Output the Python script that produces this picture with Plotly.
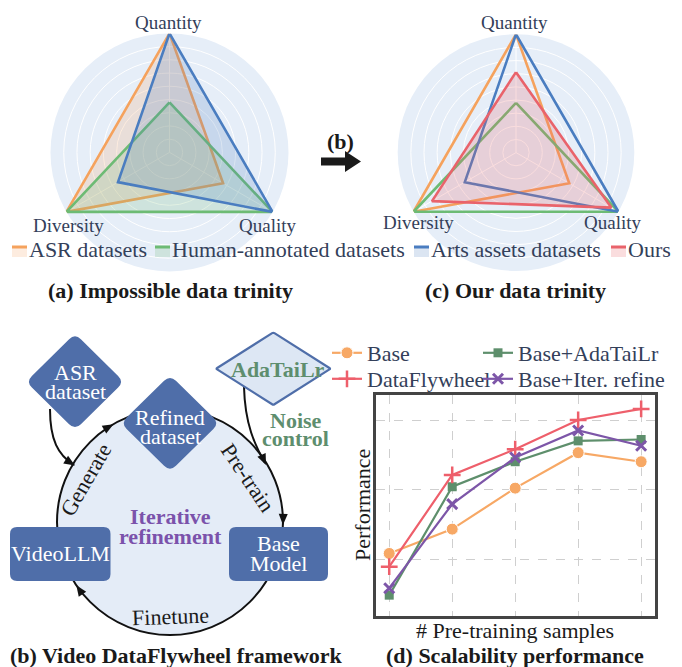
import math
import plotly.graph_objects as go

W, H = 682, 667
FONT = "Liberation Serif"

# ---------------- data ----------------
radar_axes = ["Quantity", "Quality", "Diversity"]
asr_vals = [1.0, 0.52, 1.0]
human_vals = [0.42, 1.0, 1.0]
arts_vals = [1.0, 1.0, 0.5]
ours_vals = [0.68, 0.93, 0.82]
radar_names = ["ASR datasets", "Human-annotated datasets", "Arts assets datasets", "Ours"]

sample_steps = [1, 2, 3, 4, 5]
perf_base = [1.08, 1.43, 2.02, 2.53, 2.40]
perf_adatailr = [0.48, 2.04, 2.40, 2.70, 2.72]
perf_flywheel = [0.89, 2.21, 2.58, 3.00, 3.16]
perf_iter = [0.58, 1.79, 2.46, 2.85, 2.63]
line_names = ["Base", "Base+AdaTaiLr", "DataFlywheel", "Base+Iter. refine"]

# ---------------- styles ----------------
C_ASR, C_HUM, C_ART, C_OUR = "#F5A25D", "#6DBB74", "#4A7DC0", "#E9636B"
radar_colors = [C_ASR, C_HUM, C_ART, C_OUR]
FILLS = {C_ASR: "rgba(245,162,93,0.2)", C_HUM: "rgba(109,187,116,0.2)",
         C_ART: "rgba(74,125,192,0.2)", C_OUR: "rgba(233,99,107,0.22)"}
TXT = "#33405A"
BOX = "#4F6EA9"
LIGHT = "#E4ECF7"
GREEN_T = "#5E8E6E"
PURPLE_T = "#7B52AB"

fig = go.Figure()


def closed(v):
    return list(v) + [v[0]]


# (a) radar
for vals, col in zip([asr_vals, human_vals, arts_vals], [C_ASR, C_HUM, C_ART]):
    fig.add_trace(go.Scatterpolar(r=closed(vals), theta=closed(radar_axes), subplot="polar",
                                  mode="lines", line=dict(color=col, width=2.6),
                                  fill="toself", fillcolor=FILLS[col], showlegend=False,
                                  hoverinfo="skip"))
# (c) radar
for vals, col in zip([asr_vals, human_vals, arts_vals, ours_vals], radar_colors):
    fig.add_trace(go.Scatterpolar(r=closed(vals), theta=closed(radar_axes), subplot="polar2",
                                  mode="lines", line=dict(color=col, width=2.6),
                                  fill="toself" if col == C_OUR else "none",
                                  fillcolor=FILLS[col], showlegend=False, hoverinfo="skip"))

# (d) lines
line_styles = [
    dict(color="#F7A865", symbol="circle", size=12, lw=1, lc="white", leg="legend"),
    dict(color="#5E8F6C", symbol="square", size=9, lw=0, lc="#5E8F6C", leg="legend2"),
    dict(color="#EE5F6B", symbol="cross-thin", size=12, lw=2.5, lc="#EE5F6B", leg="legend3"),
    dict(color="#7D56A8", symbol="x-thin", size=10, lw=3, lc="#7D56A8", leg="legend4"),
]
for name, ys, st in zip(line_names, [perf_base, perf_adatailr, perf_flywheel, perf_iter], line_styles):
    fig.add_trace(go.Scatter(x=sample_steps, y=ys, name=name, mode="lines+markers",
                             line=dict(color=st["color"], width=2.2),
                             marker=dict(symbol=st["symbol"], size=st["size"], color=st["color"],
                                         line=dict(color=st["lc"], width=st["lw"])),
                             xaxis="x", yaxis="y", legend=st["leg"]))

# pixel overlay axis
fig.add_trace(go.Scatter(x=[], y=[], xaxis="x2", yaxis="y2", showlegend=False, hoverinfo="skip"))


def dom(cx, cy, r):
    return dict(x=[(cx - r) / W, (cx + r) / W], y=[1 - (cy + r) / H, 1 - (cy - r) / H])


def polar_cfg(cx, cy, r):
    return dict(domain=dom(cx, cy, r), bgcolor="#E6EEF8",
                radialaxis=dict(range=[0, 1], tickvals=[k / 9 for k in range(1, 9)],
                                showticklabels=False, ticks="", showline=False,
                                gridcolor="white", gridwidth=1.3),
                angularaxis=dict(rotation=90, direction="clockwise", showticklabels=False,
                                 ticks="", showline=False, gridcolor="white", gridwidth=1.3))


shapes = []
ann = []


def S(**kw):
    d = dict(xref="x2", yref="y2", layer="above")
    d.update(kw)
    shapes.append(d)


def T(x, y, s, size=22, color=TXT, angle=0, xa="center", ya="middle"):
    ann.append(dict(x=x, y=y, xref="x2", yref="y2", text=s, showarrow=False,
                    font=dict(family=FONT, size=size, color=color), textangle=angle,
                    xanchor=xa, yanchor=ya))


def rounded_poly(pts, f):
    n = len(pts)
    segs = []
    for i in range(n):
        vx, vy = pts[i]
        px, py = pts[i - 1]
        nx, ny = pts[(i + 1) % n]
        ax, ay = vx + (px - vx) * f, vy + (py - vy) * f
        bx, by = vx + (nx - vx) * f, vy + (ny - vy) * f
        segs.append(("M" if i == 0 else "L") + f" {ax:.2f},{ay:.2f} Q {vx:.2f},{vy:.2f} {bx:.2f},{by:.2f}")
    return " ".join(segs) + " Z"


def rrect(x0, y0, x1, y1, r):
    return (f"M {x0+r},{y0} L {x1-r},{y0} Q {x1},{y0} {x1},{y0+r} L {x1},{y1-r} Q {x1},{y1} {x1-r},{y1} "
            f"L {x0+r},{y1} Q {x0},{y1} {x0},{y1-r} L {x0},{y0+r} Q {x0},{y0} {x0+r},{y0} Z")


def diamond(cx, cy, hw, hh, f=0.12):
    return rounded_poly([(cx, cy - hh), (cx + hw, cy), (cx, cy + hh), (cx - hw, cy)], f)


def arrowhead(tx, ty, dx, dy, L=11, Wd=9, color="#111111"):
    n = math.hypot(dx, dy)
    ux, uy = dx / n, dy / n
    bx, by = tx - ux * L, ty - uy * L
    px, py = -uy * Wd / 2, ux * Wd / 2
    S(type="path", path=f"M {tx:.2f},{ty:.2f} L {bx+px:.2f},{by+py:.2f} L {bx-px:.2f},{by-py:.2f} Z",
      fillcolor=color, line=dict(width=0))


# ---------- radar labels and legend ----------
for (cx, cy, lab) in [(168.5, 22, "Quantity"), (68, 225, "Diversity"), (267, 225, "Quality"),
                      (514.5, 22, "Quantity"), (418.5, 222, "Diversity"), (612.5, 222, "Quality")]:
    T(cx, cy, lab, size=19)

leg_x = [12, 155, 414, 611]
for x0, col, name in zip(leg_x, radar_colors, radar_names):
    S(type="rect", x0=x0, x1=x0 + 15, y0=247, y1=257, fillcolor=FILLS[col], line=dict(width=0))
    S(type="line", x0=x0, x1=x0 + 15, y0=247, y1=247, line=dict(color=col, width=3))
    T(x0 + 15, 249, name, size=22, xa="left")

T(170, 290, "<b>(a) Impossible data trinity</b>", size=22, color="#1a1a1a")
T(515, 290, "<b>(c) Our data trinity</b>", size=22, color="#1a1a1a")

# (b) arrow between radars
T(340, 141, "<b>(b)</b>", size=22, color="#1a1a1a")
S(type="path", path="M 321,157.5 L 345,157.5 L 345,151 L 361,161.5 L 345,172 L 345,165.5 L 321,165.5 Z",
  fillcolor="#1a1a1a", line=dict(width=0))

# ---------- (b) framework diagram ----------
ccx, ccy, cr = 170, 522, 113
S(type="circle", x0=ccx - cr, x1=ccx + cr, y0=ccy - cr, y1=ccy + cr,
  fillcolor=LIGHT, line=dict(color="#111111", width=2))
for ang in [-120, 1.5, 146]:
    t = math.radians(ang)
    arrowhead(ccx + cr * math.cos(t), ccy + cr * math.sin(t), -math.sin(t), math.cos(t))

# feeding arrows
S(type="path", path="M 50,409 C 50,440 58,455 74,465", line=dict(color="#111111", width=2))
arrowhead(75, 465.5, 16, 10)
S(type="path", path="M 244,387 C 245,425 255,445 265,463", line=dict(color="#111111", width=2))
arrowhead(266, 465, 8, 18)

# boxes
S(type="path", path=rrect(10, 527, 110.5, 581, 7), fillcolor=BOX, line=dict(width=0))
S(type="path", path=rrect(229, 527, 328, 581, 7), fillcolor=BOX, line=dict(width=0))
S(type="path", path=diamond(75, 381.7, 49, 48.3), fillcolor=BOX, line=dict(width=0))
S(type="path", path=diamond(170, 423.3, 49.3, 48.3), fillcolor=BOX, line=dict(width=0))
S(type="path", path=diamond(273.3, 368.7, 57.3, 36.3, f=0.02), fillcolor="#DDE7F4",
  line=dict(color=BOX, width=2.2))

T(60, 553, "VideoLLM", size=22, color="white")
T(278.5, 543, "Base", size=22, color="white")
T(278.5, 563, "Model", size=22, color="white")
T(75, 372, "ASR", size=22, color="white")
T(75, 391, "dataset", size=22, color="white")
T(170, 417, "Refined", size=22, color="white")
T(170, 436, "dataset", size=22, color="white")
T(278, 369, "<b>AdaTaiLr</b>", size=22, color=GREEN_T)
T(295.5, 420, "<b>Noise</b>", size=22, color=GREEN_T)
T(295.5, 438.5, "<b>control</b>", size=22, color=GREEN_T)
T(170, 516, "<b>Iterative</b>", size=22, color=PURPLE_T)
T(170, 536, "<b>refinement</b>", size=22, color=PURPLE_T)
T(85, 480, "Generate", size=22, color="#1a1a1a", angle=-60)
T(248, 477, "Pre-train", size=22, color="#1a1a1a", angle=56)
T(170, 616, "Finetune", size=22, color="#1a1a1a", angle=-2)
T(176, 655, "<b>(b) Video DataFlywheel framework</b>", size=22, color="#1a1a1a")

# ---------- (d) labels ----------
T(362, 505, "Performance", size=22, color="#1a1a1a", angle=-90)
T(515, 630, "# Pre-training samples", size=22, color="#1a1a1a")
T(515, 655, "<b>(d) Scalability performance</b>", size=22, color="#1a1a1a")

leg_common = dict(xanchor="left", yanchor="top", orientation="v", itemwidth=30,
                  font=dict(family=FONT, size=22, color=TXT), bgcolor="rgba(0,0,0,0)",
                  tracegroupgap=0, traceorder="normal", borderwidth=0)
row1, row2 = 1 - 332 / H, 1 - 358 / H
col1, col2 = 327 / W, 478 / W

fig.update_layout(
    width=W, height=H, margin=dict(l=0, r=0, t=0, b=0),
    paper_bgcolor="white", plot_bgcolor="rgba(0,0,0,0)",
    font=dict(family=FONT, color="#1a1a1a"),
    polar=polar_cfg(169.5, 152.4, 119),
    polar2=polar_cfg(516, 152.6, 118.3),
    xaxis=dict(domain=[376 / W, 655 / W], range=[0.79, 5.22], tickvals=sample_steps,
               showticklabels=False, ticks="", showgrid=True, gridcolor="#CFCFCF",
               griddash="dash", gridwidth=1.2, zeroline=False, showline=True, mirror=True,
               linecolor="#444444", linewidth=2.5, anchor="y"),
    yaxis=dict(domain=[1 - 616 / H, 1 - 395 / H], range=[0.18, 3.36], tickvals=[1, 2, 3],
               showticklabels=False, ticks="", showgrid=True, gridcolor="#CFCFCF",
               griddash="dash", gridwidth=1.2, zeroline=False, showline=True, mirror=True,
               linecolor="#444444", linewidth=2.5, anchor="x"),
    xaxis2=dict(domain=[0, 1], range=[0, W], visible=False, anchor="y2", fixedrange=True),
    yaxis2=dict(domain=[0, 1], range=[H, 0], visible=False, anchor="x2", fixedrange=True),
    legend=dict(x=col1, y=row1, **leg_common),
    legend2=dict(x=col2, y=row1, **leg_common),
    legend3=dict(x=col1, y=row2, **leg_common),
    legend4=dict(x=col2, y=row2, **leg_common),
    shapes=shapes, annotations=ann, showlegend=True,
)

fig.write_html("out.html", config={"displayModeBar": False},
               post_script="document.body.style.margin='0';document.body.style.overflow='hidden';")
